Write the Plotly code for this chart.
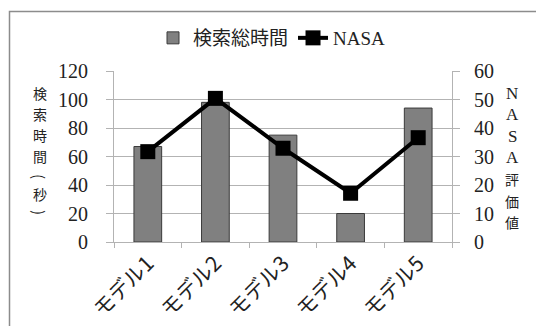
import plotly.graph_objects as go

categories = ["モデル1", "モデル2", "モデル3", "モデル4", "モデル5"]
search_time = [67, 98, 75, 20, 94]
nasa = [31.7, 50.4, 32.9, 17.1, 36.6]
left_ticks = [0, 20, 40, 60, 80, 100, 120]
right_ticks = [0, 10, 20, 30, 40, 50, 60]
left_title_chars = ["検", "索", "時", "間", "(", "秒", ")"]
left_title_y = [93, 114, 135, 156, 176, 194, 212]
right_title_chars = ["N", "A", "S", "A", "評", "価", "値"]
right_title_y = [93, 114.5, 136, 157.5, 179, 200.5, 222]

W, H = 536, 326
L, R, T, B = 114, 84, 71, 84
pw, ph = W - L - R, H - T - B

def px_x(x):
    return (x - L) / pw

def px_y(y):
    return (H - B - y) / ph

grid = "#b3b3b3"
serif = "Liberation Serif"
cjk = "Noto Sans CJK JP"

fig = go.Figure()
fig.add_trace(go.Bar(
    x=categories, y=search_time, name="検索総時間",
    marker=dict(color="#808080", line=dict(color="#3a3a3a", width=1)),
    yaxis="y",
))
fig.add_trace(go.Scatter(
    x=categories, y=nasa, name="NASA", mode="lines+markers",
    line=dict(color="black", width=4),
    marker=dict(symbol="square", size=15, color="black"),
    yaxis="y2",
))

annotations = []
for ch, y in zip(left_title_chars, left_title_y):
    annotations.append(dict(text=ch, xref="paper", yref="paper",
                            x=px_x(40), y=px_y(y), xanchor="center", yanchor="middle",
                            textangle=90 if ch in "()" else 0,
                            showarrow=False,
                            font=dict(family=cjk, size=14 if ch not in "()" else 15, color="#222")))
for ch, y in zip(right_title_chars, right_title_y):
    latin = ch.isascii()
    annotations.append(dict(text=ch, xref="paper", yref="paper",
                            x=px_x(512), y=px_y(y), xanchor="center", yanchor="middle",
                            showarrow=False,
                            font=dict(family=serif if latin else cjk, size=17 if latin else 14,
                                      color="#222")))

fig.update_layout(
    width=W, height=H,
    margin=dict(l=L, r=R, t=T, b=B, autoexpand=False),
    paper_bgcolor="white", plot_bgcolor="white",
    bargap=0.59,
    showlegend=True,
    legend=dict(orientation="h", x=px_x(272), xanchor="center",
                y=px_y(38), yanchor="middle",
                font=dict(family=serif + ", " + cjk, size=19, color="#222"),
                itemwidth=30, traceorder="normal"),
    xaxis=dict(type="category", tickson="boundaries", ticks="outside",
               ticklen=5, tickcolor=grid, showline=True, linecolor=grid,
               showgrid=False, tickangle=-45,
               tickfont=dict(family=cjk, size=21, color="#222")),
    yaxis=dict(range=[0, 120], tickvals=left_ticks, showgrid=True,
               gridcolor=grid, gridwidth=1, ticks="outside", ticklen=7,
               tickcolor=grid, showline=True, linecolor=grid,
               zeroline=False, ticklabelstandoff=14,
               tickfont=dict(family=serif, size=20, color="#222")),
    yaxis2=dict(range=[0, 60], tickvals=right_ticks, overlaying="y",
                side="right", showgrid=False, ticks="outside", ticklen=7,
                tickcolor=grid, showline=True, linecolor=grid,
                zeroline=False, ticklabelstandoff=10,
                tickfont=dict(family=serif, size=20, color="#222")),
    shapes=[dict(type="rect", xref="paper", yref="paper",
                 x0=px_x(9.5), x1=px_x(560), y0=px_y(11.5), y1=px_y(340),
                 line=dict(color="#8c8c8c", width=1.5), fillcolor="rgba(0,0,0,0)",
                 layer="below")],
    annotations=annotations,
)

fig.write_html("out.html")
